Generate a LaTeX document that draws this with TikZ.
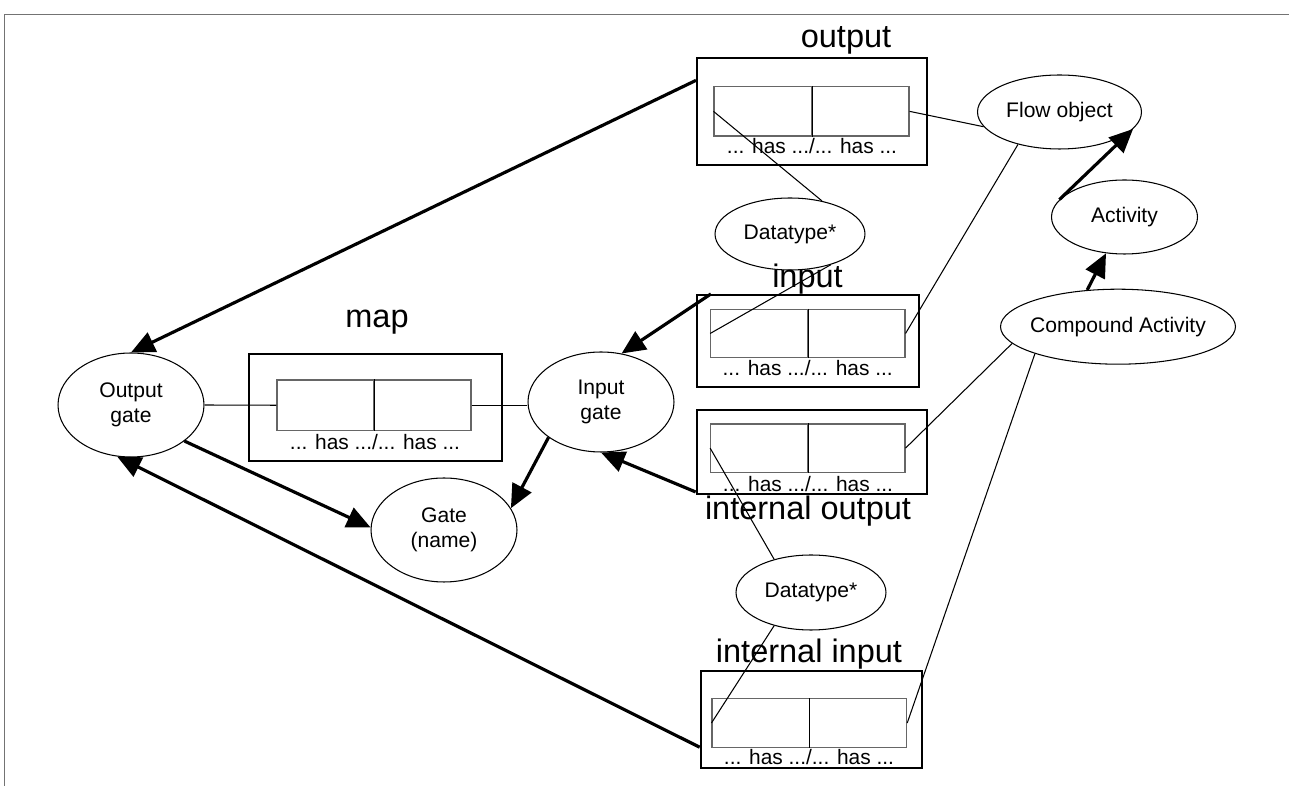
\documentclass[tikz,border=0pt]{standalone}
\usepackage{fontspec}
\setmainfont{Liberation Sans}
\usetikzlibrary{shapes.geometric,arrows.meta,fit}

\begin{document}
\begin{tikzpicture}[x=0.02cm,y=-0.02cm,
    gate/.style={draw,ellipse,line width=0.6pt,inner sep=0pt,align=center,font=\fontsize{12}{14.5}\selectfont},
    outerbox/.style={draw,line width=1.2pt,inner sep=0pt},
    cell/.style={draw=black!60,line width=0.6pt,inner sep=0pt},
    hastext/.style={anchor=base,inner sep=0pt,font=\fontsize{11.9}{13}\selectfont},
    boxlabel/.style={anchor=base,inner sep=0pt,font=\fontsize{18.5}{21}\selectfont},
    rel/.style={line width=1.8pt,-{Triangle[length=13.5pt,width=12pt]}},
    link/.style={line width=0.6pt}]
    \useasboundingbox (0,0) rectangle (1289,786);
    \draw [black!55] (4,786) -- (4,14) -- (1289,14);

    \node [gate,minimum width=2.92cm,minimum height=2.08cm] (og) at (131,405) {Output\\gate};
    \node [gate,minimum width=2.92cm,minimum height=2.08cm] (gn) at (444,530) {Gate\\(name)};
    \node [gate,minimum width=2.92cm,minimum height=2.0cm] (ig) at (601,402) {Input\\gate};
    \node [gate,minimum width=3.0cm,minimum height=1.44cm] (dt1) at (790,234) {Datatype*};
    \node [gate,minimum width=3.0cm,minimum height=1.5cm] (dt2) at (811,592.5) {Datatype*};
    \node [gate,minimum width=3.28cm,minimum height=1.48cm] (fo) at (1059.5,112) {Flow object};
    \node [gate,minimum width=2.92cm,minimum height=1.48cm] (act) at (1124.5,217) {Activity};
    \node [gate,minimum width=4.7cm,minimum height=1.5cm,inner xsep=-8pt] (ca) at (1118,326.7) {Compound Activity};

    \node [outerbox,fit={(249,354) (502,461)}] (mbox) {};
    \node [cell,fit={(277,380) (374,430.5)}] (mcL) {};
    \node [cell,fit={(374,380) (471,430.5)}] (mcR) {};
    \draw [link] (mcL.north east) -- (mcL.south east);
    \node [hastext] (mhas) at (375,450) {... has .../... has ...};
    \node [boxlabel] (mlab) at (377,328) {map};

    \node [outerbox,fit={(697,58) (927,165)}] (obox) {};
    \node [cell,fit={(714,86.7) (811.7,136)}] (ocL) {};
    \node [cell,fit={(811.7,86.7) (909,136)}] (ocR) {};
    \draw [link] (ocL.north east) -- (ocL.south east);
    \node [hastext] (ohas) at (812,153.3) {... has .../... has ...};
    \node [boxlabel] (olab) at (846,48) {output};

    \node [outerbox,fit={(696.7,295) (918.7,387.3)}] (ibox) {};
    \node [cell,fit={(710.7,309.3) (807.7,357.7)}] (icL) {};
    \node [cell,fit={(807.7,309.3) (905,357.7)}] (icR) {};
    \draw [link] (icL.north east) -- (icL.south east);
    \node [hastext] (ihas) at (807.7,376) {... has .../... has ...};
    \node [boxlabel] (ilab) at (807.5,288) {input};

    \node [outerbox,fit={(696.7,410) (926.7,494)}] (iobox) {};
    \node [cell,fit={(710.7,424) (807.7,472.3)}] (iocL) {};
    \node [cell,fit={(807.7,424) (905,472.3)}] (iocR) {};
    \draw [link] (iocL.north east) -- (iocL.south east);
    \node [hastext] (iohas) at (808,491.7) {... has .../... has ...};
    \node [boxlabel] (iolab) at (808,520) {internal output};

    \node [outerbox,fit={(700.7,671) (922,767.7)}] (iibox) {};
    \node [cell,fit={(712,698.7) (809.3,747.3)}] (iicL) {};
    \node [cell,fit={(809.3,698.7) (906.7,747.3)}] (iicR) {};
    \draw [link] (iicL.north east) -- (iicL.south east);
    \node [hastext] (iihas) at (809,765) {... has .../... has ...};
    \node [boxlabel] (iilab) at (809,663) {internal input};

    \draw [link] (og.east) -- (mcL.west);
    \draw [link] (mcR.east) -- (mcR.east -| ig.west);
    \draw [link] (ocL.west) -- (dt1.46);
    \draw [link] (icL.west) -- (dt1.323);
    \draw [link] (ocR.east) -- (fo.191);
    \draw [link] (fo.218) -- (icR.east);
    \draw [link] (ca.189) -- (iocR.east);
    \draw [link] (ca.198) -- (iicR.east);
    \draw [link] (iocL.west) -- (dt2.138);
    \draw [link] (dt2.222) -- (iicL.west);

    \draw [rel] (obox.165) -- (og.north);
    \draw [rel] (ibox.154) -- (ig.67);
    \draw [rel] (iobox.199) -- (ig.south);
    \draw [rel] (iibox.194) -- (og.255);
    \draw [rel] (og.326) -- (gn.178);
    \draw [rel] (ig.214) -- (gn.18);
    \draw [rel] (act.165) -- (fo.347);
    \draw [rel] (ca.130) -- (act.243);
\end{tikzpicture}
\end{document}
